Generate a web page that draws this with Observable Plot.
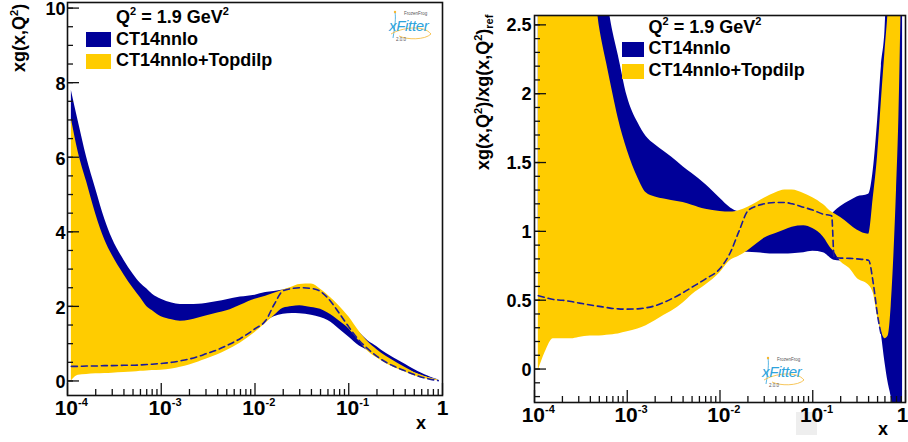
<!DOCTYPE html>
<html>
<head>
<meta charset="utf-8">
<script src="https://cdn.jsdelivr.net/npm/d3@7"></script>
<script src="https://cdn.jsdelivr.net/npm/@observablehq/plot@0.6"></script>
<style>
  html, body { margin: 0; padding: 0; background: #fff; }
  #wrap { position: relative; width: 908px; height: 442px; overflow: hidden;
          font-family: "Liberation Sans", Arial, Helvetica, sans-serif; font-weight: bold; color: #000; }
  .panel { position: absolute; top: 0; width: 454px; height: 442px; }
  .panel svg { position: absolute; left: 0; top: 0; }
  .abs { position: absolute; white-space: nowrap; font-size: 18px; line-height: 18px; }
  .sup { position: relative; font-size: 11px; top: -7.5px; }
  .sub { position: relative; font-size: 11px; top: 4px; }
  .ytitle { transform-origin: 0 0; transform: rotate(-90deg); }
  .swatch { position: absolute; }
  .logo { position: absolute; font-weight: normal; }
  .logo .name { position: absolute; font-style: italic; color: #2ea3dc; font-size: 15px; line-height: 15px; letter-spacing: -0.3px; }
  .logo .tiny { position: absolute; font-size: 4.5px; line-height: 5px; color: #555; }
  .hl { position: absolute; background: #eeeeee; }
</style>
</head>
<body>
<div id="wrap"></div>
<script>
// Gluon distribution xg(x, Q^2) at Q^2 = 1.9 GeV^2: CT14nnlo vs CT14nnlo+Topdilp

const BLUE = "#000099";
const YELLOW = "#ffcc00";
const DASH = "#1a1a9c";
const INK = "#111";
const FONT = "'Liberation Sans', Arial, Helvetica, sans-serif";

// ---- left panel: xg(x,Q^2) ----
const xL = [1.1e-4, 1.3e-4, 1.6e-4, 2e-4, 2.5e-4, 3e-4, 4e-4, 5e-4, 6e-4, 7e-4, 8e-4,
            1e-3, 1.3e-3, 1.6e-3, 2e-3, 2.5e-3, 3e-3, 4e-3, 5e-3, 7e-3,
            1e-2, 1.3e-2, 1.6e-2, 2e-2, 2.5e-2, 3e-2, 4e-2, 5e-2, 6e-2, 8e-2,
            0.1, 0.13, 0.16, 0.2, 0.25, 0.3, 0.4, 0.5, 0.6, 0.7, 0.8, 0.9];
// CT14nnlo band (upper / lower edge)
const ctHiL = [7.79, 6.97, 6.0, 5.15, 4.34, 3.82, 3.24, 2.87, 2.62, 2.47, 2.33,
               2.19, 2.09, 2.05, 2.05, 2.06, 2.08, 2.13, 2.18, 2.25,
               2.30, 2.37, 2.40, 2.44, 2.48, 2.42, 2.32, 2.22, 2.12, 1.90,
               1.64, 1.30, 1.08, 0.92, 0.74, 0.62, 0.45, 0.31, 0.21, 0.13, 0.07, 0.03];
const ctLoL = [6.9, 6.0, 5.2, 4.35, 3.65, 3.25, 2.75, 2.4, 2.15, 1.95, 1.85,
               1.70, 1.62, 1.58, 1.60, 1.64, 1.66, 1.68, 1.68, 1.66,
               1.62, 1.62, 1.72, 1.79, 1.81, 1.80, 1.76, 1.70, 1.62, 1.38,
               1.18, 0.94, 0.82, 0.68, 0.56, 0.47, 0.33, 0.22, 0.14, 0.09, 0.05, 0.02];
// CT14nnlo+Topdilp band and central value
const topHiL = [7.03, 6.14, 5.34, 4.48, 3.78, 3.37, 2.85, 2.49, 2.23, 2.0, 1.89,
                1.72, 1.64, 1.60, 1.63, 1.69, 1.74, 1.82, 1.88, 2.03,
                2.19, 2.27, 2.35, 2.44, 2.52, 2.59, 2.60, 2.46, 2.30, 2.0,
                1.72, 1.32, 1.05, 0.84, 0.66, 0.54, 0.36, 0.23, 0.15, 0.09, 0.05, 0.02];
const topLoL = [0.0, 0.15, 0.17, 0.19, 0.20, 0.21, 0.23, 0.24, 0.26, 0.27, 0.28,
                0.29, 0.32, 0.37, 0.43, 0.51, 0.58, 0.70, 0.82, 1.02,
                1.30, 1.55, 1.75, 1.95, 2.0, 2.02, 1.97, 1.92, 1.82, 1.60,
                1.40, 1.06, 0.80, 0.62, 0.47, 0.37, 0.24, 0.14, 0.08, 0.045, 0.02, 0.005];
const topMidL = [0.39, 0.39, 0.40, 0.40, 0.41, 0.41, 0.42, 0.42, 0.43, 0.44, 0.45,
                 0.47, 0.50, 0.54, 0.59, 0.66, 0.73, 0.84, 0.95, 1.14,
                 1.40, 1.62, 2.05, 2.42, 2.48, 2.50, 2.48, 2.40, 2.22, 1.80,
                 1.45, 1.08, 0.86, 0.66, 0.50, 0.40, 0.27, 0.17, 0.10, 0.06, 0.03, 0.01];

// ---- right panel: ratio to reference ----
const xR = [1.1e-4, 1.3e-4, 1.6e-4, 2e-4, 2.5e-4, 3e-4, 4e-4, 5e-4, 6e-4, 7e-4, 8e-4,
            1e-3, 1.3e-3, 1.6e-3, 2e-3, 2.5e-3, 3e-3, 4e-3, 5e-3, 7e-3,
            1e-2, 1.3e-2, 1.6e-2, 2e-2, 2.5e-2, 3e-2, 4e-2, 5e-2, 6e-2, 8e-2,
            0.1, 0.13, 0.16, 0.17, 0.2, 0.25, 0.3, 0.4, 0.45, 0.5, 0.55, 0.6, 0.65, 0.7, 0.75, 0.8, 0.85, 0.9, 0.93];
const ctHiR = [3.0, 3.0, 3.0, 3.0, 3.0, 3.0, 3.0, 3.0, 2.7, 2.45, 2.28,
               1.98, 1.79, 1.69, 1.63, 1.58, 1.54, 1.47, 1.42, 1.34,
               1.24, 1.17, 1.14, 1.13, 1.15, 1.16, 1.17, 1.17, 1.16, 1.15,
               1.13, 1.12, 1.12, 1.14, 1.18, 1.22, 1.25, 1.27, 1.45, 1.8, 2.2, 2.45, 3.0, 3.0, 3.0, 3.0, 3.0, 3.0, 3.0];
const ctLoR = [1.0, 1.0, 1.0, 1.0, 1.0, 1.0, 1.0, 1.0, 1.0, 0.98, 0.97,
               0.95, 0.93, 0.92, 0.90, 0.89, 0.88, 0.87, 0.86, 0.85,
               0.85, 0.85, 0.848, 0.848, 0.845, 0.84, 0.836, 0.836, 0.838, 0.845,
               0.855, 0.845, 0.80, 0.79, 0.785, 0.79, 0.78, 0.72, 0.60, 0.42, 0.25, 0.05, -0.1, -0.2, -0.35, -0.6, -0.6, -0.6, -0.6];
const topHiR = [3.0, 3.0, 3.0, 3.0, 3.0, 3.0, 3.0, 2.49, 2.22, 2.0, 1.82,
                1.59, 1.39, 1.28, 1.25, 1.235, 1.225, 1.21, 1.19, 1.16,
                1.145, 1.14, 1.15, 1.175, 1.21, 1.24, 1.28, 1.30, 1.30, 1.275,
                1.245, 1.195, 1.14, 1.13, 1.10, 1.05, 1.01, 0.98, 1.25, 1.55, 1.95, 2.3, 2.6, 3.0, 3.0, 3.0, 3.0, 3.0, null];
const topLoR = [-0.01, 0.12, 0.22, 0.22, 0.22, 0.23, 0.24, 0.24, 0.245, 0.25, 0.255,
                0.27, 0.29, 0.315, 0.35, 0.39, 0.42, 0.48, 0.54, 0.61,
                0.70, 0.79, 0.82, 0.86, 0.91, 0.95, 0.985, 1.01, 1.03, 1.04,
                1.02, 0.96, 0.87, 0.85, 0.78, 0.73, 0.66, 0.61, 0.55, 0.38, 0.27, 0.22, 0.24, 0.45, 0.83, 1.3, 1.85, 2.7, null];
const topMidR = [0.533, 0.52, 0.505, 0.50, 0.49, 0.48, 0.465, 0.455, 0.447, 0.44, 0.437,
                 0.435, 0.437, 0.445, 0.46, 0.485, 0.51, 0.555, 0.595, 0.655,
                 0.73, 0.85, 1.0, 1.15, 1.185, 1.20, 1.21, 1.21, 1.20, 1.175,
                 1.155, 1.125, 1.114, 0.81, 0.806, 0.804, 0.80, 0.79, 0.62, 0.39, 0.24, null, null, null, null, null, null, null, null];

// ---- axis ticks and labels ----
const xDecades = [1e-4, 1e-3, 1e-2, 1e-1];
const xDecadeExp = ["-4", "-3", "-2", "-1"];
const xMinor = [];
for (const d of xDecades) for (let k = 2; k <= 9; k++) xMinor.push(k * d);
const yMajorL = [0, 2, 4, 6, 8, 10];
const yMinorL = d3.range(0, 10.01, 0.5);
const yMajorR = [0, 0.5, 1, 1.5, 2, 2.5];
const yLabelsR = ["0", "0.5", "1", "1.5", "2", "2.5"];
const yMinorR = d3.range(-2, 26).map(i => i / 10);

const rows = (xs, ctHi, ctLo, topHi, topLo, topMid) =>
  xs.map((x, i) => ({x, ctHi: ctHi[i], ctLo: ctLo[i], topHi: topHi[i], topLo: topLo[i], topMid: topMid[i]}));

function panel({data, yDomain, yMajor, yLabels, yMinor, margin, labelDx, labelDy, oneAnchor, oneDx}) {
  const W = 454, H = 442;
  const fw = W - margin.left - margin.right;
  const fh = H - margin.top - margin.bottom;
  const num = v => v == null ? NaN : v;
  return Plot.plot({
    width: W, height: H,
    marginTop: margin.top, marginRight: margin.right, marginBottom: margin.bottom, marginLeft: margin.left,
    style: {background: "transparent", fontFamily: FONT, fontWeight: "bold", overflow: "visible"},
    x: {type: "log", domain: [1e-4, 1], axis: null},
    y: {domain: yDomain, axis: null},
    marks: [
      Plot.areaY(data, {x: "x", y1: d => num(d.ctLo), y2: d => num(d.ctHi), fill: BLUE, curve: "monotone-x", clip: true}),
      Plot.areaY(data, {x: "x", y1: d => num(d.topLo), y2: d => num(d.topHi), fill: YELLOW, curve: "monotone-x", clip: true}),
      Plot.lineY(data, {x: "x", y: d => num(d.topMid), stroke: DASH, strokeWidth: 1.6, strokeDasharray: "6 4",
                        curve: "monotone-x", clip: true}),
      // inward ticks, ROOT style
      Plot.tickX(xMinor, {x: d => d, insetTop: fh - 6, stroke: INK, strokeWidth: 1.3}),
      Plot.tickX(xDecades.concat([1]), {x: d => d, insetTop: fh - 12, stroke: INK, strokeWidth: 1.3}),
      Plot.tickY(yMinor.filter(v => v >= yDomain[0] && v <= yDomain[1]), {y: d => d, insetRight: fw - 6, stroke: INK, strokeWidth: 1.3}),
      Plot.tickY(yMajor, {y: d => d, insetRight: fw - 12, stroke: INK, strokeWidth: 1.3}),
      // tick labels
      Plot.text(yMajor, {y: d => d, text: (d, i) => yLabels[i], frameAnchor: "left", textAnchor: "end",
                         dx: labelDx, dy: labelDy, fontSize: 18, fontWeight: "bold"}),
      Plot.text(xDecades, {x: d => d, text: () => "10", frameAnchor: "bottom", textAnchor: "end",
                           dx: 10.5, dy: 19, fontSize: 21, fontWeight: "bold"}),
      Plot.text(xDecades, {x: d => d, text: (d, i) => xDecadeExp[i], frameAnchor: "bottom", textAnchor: "start",
                           dx: 10.5, dy: 10, fontSize: 11, fontWeight: "bold"}),
      Plot.text([1], {x: d => d, text: () => "1", frameAnchor: "bottom", textAnchor: oneAnchor,
                      dx: oneDx, dy: 19, fontSize: 21, fontWeight: "bold"}),
      Plot.frame({stroke: INK, strokeWidth: 1.6})
    ]
  });
}

const wrap = document.getElementById("wrap");

function addPanel(left) {
  const div = document.createElement("div");
  div.className = "panel";
  div.style.left = left + "px";
  wrap.appendChild(div);
  return div;
}

// left panel
const pL = addPanel(0);
pL.appendChild(panel({
  data: rows(xL, ctHiL, ctLoL, topHiL, topLoL, topMidL),
  yDomain: [-0.39, 10.15], yMajor: yMajorL, yLabels: yMajorL.map(String), yMinor: yMinorL,
  margin: {top: 2, right: 12, bottom: 47, left: 67}, labelDx: -2, labelDy: 1.5,
  oneAnchor: "middle", oneDx: 0
}));

// right panel (highlight patch behind the 10^-1 label sits under the chart)
const pR = addPanel(454);
const hl = document.createElement("div");
hl.className = "hl";
Object.assign(hl.style, {left: "342px", top: "412px", width: "21px", height: "23px"});
pR.appendChild(hl);
pR.appendChild(panel({
  data: rows(xR, ctHiR, ctLoR, topHiR, topLoR, topMidR),
  yDomain: [-0.243, 2.568], yMajor: yMajorR, yLabels: yLabelsR, yMinor: yMinorR,
  margin: {top: 15, right: 3, bottom: 40, left: 80}, labelDx: -3, labelDy: 0.7,
  oneAnchor: "end", oneDx: 3
}));

// overlays: axis titles, legend, logo
function html(parent, cls, style, inner) {
  const el = document.createElement("div");
  el.className = cls;
  Object.assign(el.style, style);
  el.innerHTML = inner;
  parent.appendChild(el);
  return el;
}

const Q2 = 'Q<span class="sup">2</span> = 1.9 GeV<span class="sup">2</span>';

// left
html(pL, "abs ytitle", {left: "10px", top: "72px"}, 'xg(x,Q<span class="sup">2</span>)');
html(pL, "abs", {left: "416px", top: "414px"}, "x");
html(pL, "abs", {left: "116px", top: "7.5px"}, Q2);
html(pL, "swatch", {left: "86px", top: "32px", width: "25px", height: "15px", background: BLUE}, "");
html(pL, "abs", {left: "116px", top: "30px"}, "CT14nnlo");
html(pL, "swatch", {left: "86px", top: "54px", width: "25px", height: "15px", background: YELLOW}, "");
html(pL, "abs", {left: "116px", top: "51.3px"}, "CT14nnlo+Topdilp");

// right
html(pR, "abs ytitle", {left: "20px", top: "170px"},
     'xg(x,Q<span class="sup">2</span>)/xg(x,Q<span class="sup">2</span>)<span class="sub">ref</span>');
html(pR, "abs", {left: "424px", top: "420px"}, "x");
html(pR, "abs", {left: "194.5px", top: "17.5px"}, Q2);
html(pR, "swatch", {left: "167.5px", top: "42px", width: "22px", height: "15px", background: BLUE}, "");
html(pR, "abs", {left: "194.5px", top: "39px"}, "CT14nnlo");
html(pR, "swatch", {left: "167.5px", top: "63.5px", width: "22px", height: "15px", background: YELLOW}, "");
html(pR, "abs", {left: "194.5px", top: "60.8px"}, "CT14nnlo+Topdilp");

function logo(parent, x, y) {
  const g = html(parent, "logo", {left: x + "px", top: y + "px", width: "46px", height: "36px"}, "");
  g.innerHTML =
    '<svg width="46" height="36" style="position:absolute;left:0;top:0">' +
    '<path d="M8 4 C 9 10, 8 18, 6 30" stroke="#2ea3dc" stroke-width="0.8" fill="none"/>' +
    '<path d="M4 26 C 14 20, 36 16, 44 26 C 38 32, 20 32, 12 28" stroke="#f5b731" stroke-width="0.8" fill="none"/>' +
    '<circle cx="8" cy="4" r="1.2" fill="#f5b731"/></svg>' +
    '<div class="tiny" style="left:17px;top:3px">FrozenFrog</div>' +
    '<div class="name" style="left:2px;top:10px">xFitter</div>' +
    '<div class="tiny" style="left:9px;top:29px">2.0.0</div>';
}
logo(pL, 387, 8);
logo(pR, 306, 354);
</script>
</body>
</html>
